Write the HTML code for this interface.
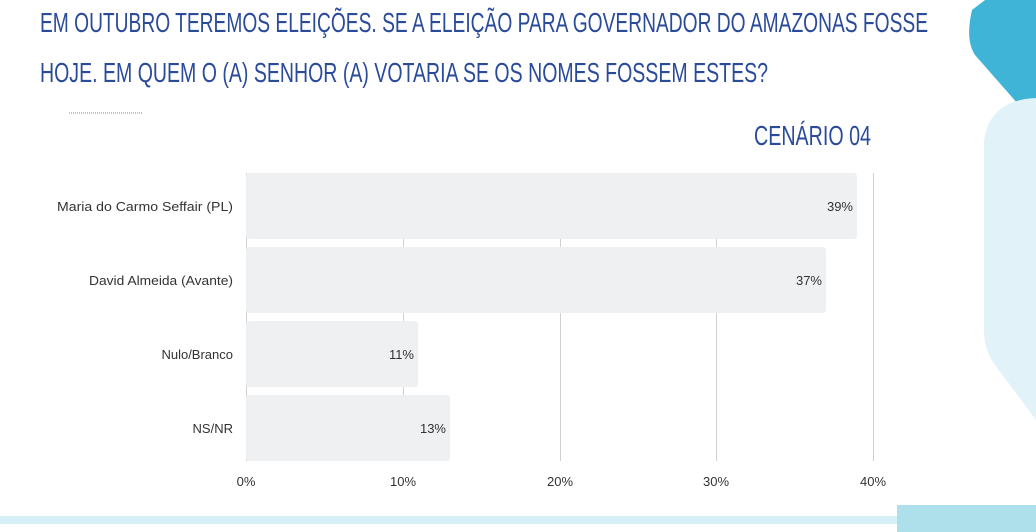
<!DOCTYPE html>
<html><head><meta charset="utf-8"><style>body{margin:0;background:#fff}svg{display:block}</style></head><body>
<svg width="1036" height="532" xmlns="http://www.w3.org/2000/svg" font-family="'Liberation Sans Narrow','Liberation Sans',sans-serif">
<path d="M985,0 L1036,0 L1036,100 L1025,112 L975,55 Q965,40 972,10 Z" fill="#3fb4d6"/>
<path d="M1036,98 Q990,100 984,140 L984,330 Q984,350 995,365 L1036,420 Z" fill="#e1f3f8"/>
<rect x="0" y="516" width="983" height="8" fill="#d6eef5"/>
<rect x="897" y="505" width="139" height="27" fill="#aee0ec"/>
<g fill="#2a4a9a" font-size="28">
<text x="40" y="32" textLength="888" lengthAdjust="spacingAndGlyphs">EM OUTUBRO TEREMOS ELEIÇÕES. SE A ELEIÇÃO PARA GOVERNADOR DO AMAZONAS FOSSE</text>
<text x="40" y="82" textLength="728" lengthAdjust="spacingAndGlyphs">HOJE. EM QUEM O (A) SENHOR (A) VOTARIA SE OS NOMES FOSSEM ESTES?</text>
<text x="754" y="145" textLength="117" lengthAdjust="spacingAndGlyphs">CENÁRIO 04</text>
</g>
<line x1="69" y1="113" x2="143" y2="113" stroke="#7a8ab5" stroke-width="1" stroke-dasharray="1,1"/>
<g stroke="#d0d0d0" stroke-width="1">
<line x1="246.5" y1="173" x2="246.5" y2="461"/><line x1="403.5" y1="173" x2="403.5" y2="461"/>
<line x1="560.5" y1="173" x2="560.5" y2="461"/><line x1="716.5" y1="173" x2="716.5" y2="461"/>
<line x1="873.5" y1="173" x2="873.5" y2="461"/>
</g>
<g fill="#eef0f1">
<rect x="246" y="173" width="611" height="66" rx="3"/>
<rect x="246" y="247" width="580" height="66" rx="3"/>
<rect x="246" y="321" width="172" height="66" rx="3"/>
<rect x="246" y="395" width="204" height="66" rx="3"/>
</g>
<g fill="#333" font-size="13">
<text x="57" y="211" textLength="176" lengthAdjust="spacingAndGlyphs">Maria do Carmo Seffair (PL)</text>
<text x="89" y="285" textLength="144" lengthAdjust="spacingAndGlyphs">David Almeida (Avante)</text>
<text x="233" y="359" text-anchor="end">Nulo/Branco</text>
<text x="233" y="433" text-anchor="end">NS/NR</text>
<text x="853" y="211" text-anchor="end">39%</text>
<text x="822" y="285" text-anchor="end">37%</text>
<text x="414" y="359" text-anchor="end">11%</text>
<text x="446" y="433" text-anchor="end">13%</text>
<g text-anchor="middle"><text x="246" y="486">0%</text><text x="403" y="486">10%</text><text x="560" y="486">20%</text><text x="716" y="486">30%</text><text x="873" y="486">40%</text></g>
</g>
</svg>
</body></html>
